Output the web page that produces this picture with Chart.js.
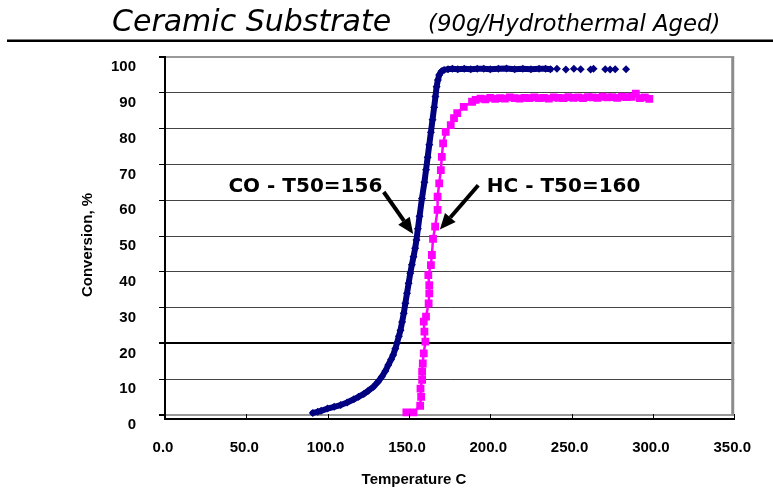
<!DOCTYPE html>
<html>
<head>
<meta charset="utf-8">
<script src="https://cdn.jsdelivr.net/npm/chart.js@4.4.0/dist/chart.umd.min.js"></script>
<style>
  html, body { margin: 0; padding: 0; background: #fff; }
  canvas { display: block; }
</style>
</head>
<body>
<canvas id="chart" width="773" height="491"></canvas>
<script>
var titleMain = 'Ceramic Substrate';
var titleSub = '(90g/Hydrothermal Aged)';
var xTitle = 'Temperature C';
var yTitle = 'Conversion, %';

var xTicks = [0, 50, 100, 150, 200, 250, 300, 350];
var yTicks = [0, 10, 20, 30, 40, 50, 60, 70, 80, 90, 100];

// CO conversion
var coTemp = [90.9, 93.9, 96.0, 99.9, 104.0, 108.0, 112.0, 116.1, 119.0, 122.2, 125.0, 128.2, 131.0, 133.3,
  135.5, 137.3, 139.0, 140.3, 141.6, 142.7, 143.8, 144.8, 145.8, 146.8, 147.8, 148.8, 149.8, 150.8, 151.8,
  152.8, 153.8, 154.6, 155.5, 156.5, 158.0, 159.5, 160.5, 161.5, 162.5, 163.5, 164.5, 165.5, 166.3, 167.0,
  167.8, 168.6, 170.0, 171.6, 174.0, 176.7, 180, 184, 188, 192, 196, 200, 205, 210, 215, 220, 225, 230, 234,
  237, 241, 246.5, 251.4, 255.6, 261.7, 263.5, 270.7, 273.7, 276.8, 283.5];
var coConv = [0.6, 0.9, 1.2, 1.8, 2.3, 2.8, 3.5, 4.4, 5.1, 5.9, 6.8, 7.9, 9.3, 10.7,
  12.3, 14.0, 15.5, 16.8, 18.5, 20.2, 22.0, 23.7, 26.0, 28.4, 31.2, 34.0, 36.8, 39.6, 42.0,
  44.2, 46.6, 48.9, 52.0, 55.5, 60.5, 65.0, 68.5, 72.0, 75.5, 79.0, 82.5, 86.0, 89.0, 91.7,
  93.6, 95.0, 96.0, 96.4, 96.6, 96.7, 96.6, 96.7, 96.6, 96.7, 96.7, 96.6, 96.7, 96.8, 96.6, 96.7, 96.6, 96.7, 96.7,
  96.6, 96.7, 96.5, 96.7, 96.6, 96.5, 96.7, 96.6, 96.5, 96.6, 96.6];

// HC conversion
var hcTemp = [148.4, 152.8, 156.9, 157.5, 157.1, 158.1, 158.1, 158.5, 159.1, 160.1, 159.5, 159.1, 160.5,
  162.1, 162.5, 162.5, 161.9, 163.5, 164.1, 164.8, 166.1, 167.6, 167.6, 168.6, 169.6, 170.2, 171.0, 172.6,
  175.7, 177.7, 179.7, 183.7, 188.8, 191, 194, 197, 200, 203, 206, 209, 212, 215, 218, 221, 224, 227, 230,
  233, 236, 239, 242, 245, 248, 251, 254, 257, 260, 263, 266, 269, 272, 275, 278, 281, 284, 287, 289.5,
  292, 295, 297.8];
var hcConv = [0.75, 0.75, 2.6, 5.1, 7.4, 9.8, 12.1, 14.4, 17.2, 20.5, 23.3, 26.1, 27.5,
  31.2, 34.0, 36.3, 39.1, 41.9, 44.7, 49.2, 52.6, 57.3, 61.0, 64.7, 68.4, 72.1, 75.9, 79.1,
  81.0, 82.9, 84.3, 86.1, 87.5, 88.0, 88.4, 88.2, 88.6, 88.3, 88.5, 88.4, 88.7, 88.5, 88.4, 88.6, 88.5, 88.7, 88.5,
  88.6, 88.4, 88.7, 88.6, 88.5, 88.8, 88.6, 88.7, 88.5, 88.8, 88.7, 88.6, 88.9, 88.7, 88.8, 88.6, 88.9, 88.8, 88.9, 89.8,
  88.5, 88.7, 88.3];

// past this temperature the CO markers stand apart, no joining line
var coSparseFrom = 237;

function toPoints(xs, ys) {
  return xs.map(function(x, i) { return {x: x, y: ys[i]}; });
}

// callouts, in data units
var callouts = [
  {text: 'CO - T50=156', at: [86.3, 63.7], from: [134.5, 62.3], to: [152.6, 50.6]},
  {text: 'HC - T50=160', at: [245.1, 63.7], from: [192.6, 64.2], to: [169.0, 51.8]}
];

function arrow(ctx, x0, y0, x1, y1) {
  var ang = Math.atan2(y1 - y0, x1 - x0);
  var head = 16, half = 7;
  var bx = x1 - head * Math.cos(ang), by = y1 - head * Math.sin(ang);
  ctx.beginPath();
  ctx.moveTo(x0, y0);
  ctx.lineTo(bx, by);
  ctx.lineWidth = 4;
  ctx.stroke();
  ctx.beginPath();
  ctx.moveTo(x1, y1);
  ctx.lineTo(bx + half * Math.sin(ang), by - half * Math.cos(ang));
  ctx.lineTo(bx - half * Math.sin(ang), by + half * Math.cos(ang));
  ctx.closePath();
  ctx.fill();
}

var decor = {
  id: 'decor',
  afterDraw: function(chart) {
    var ctx = chart.ctx, a = chart.chartArea;
    var xs = chart.scales.x, ys = chart.scales.y;
    ctx.save();
    ctx.fillStyle = '#000';
    ctx.strokeStyle = '#000';

    // heading and rule
    ctx.textAlign = 'left';
    ctx.textBaseline = 'alphabetic';
    ctx.font = 'italic 30px "DejaVu Sans"';
    ctx.fillText(titleMain, 112, 31);
    ctx.font = 'italic 22.8px "DejaVu Sans"';
    ctx.fillText(titleSub, 428, 31);
    ctx.fillRect(7, 39.5, 766, 2.5);

    // plot frame on the right
    ctx.beginPath();
    ctx.strokeStyle = '#8c8c8c';
    ctx.lineWidth = 3;
    ctx.moveTo(a.right - 1.5, a.top);
    ctx.lineTo(a.right - 1.5, ys.getPixelForValue(0));
    ctx.stroke();

    // x tick marks pointing up
    ctx.strokeStyle = '#000';
    ctx.lineWidth = 1;
    xTicks.forEach(function(v) {
      var px = Math.round(xs.getPixelForValue(v)) + 0.5;
      ctx.beginPath();
      ctx.moveTo(px, a.bottom - 5);
      ctx.lineTo(px, a.bottom);
      ctx.stroke();
    });

    // axis titles
    ctx.font = 'bold 15px "Liberation Sans"';
    ctx.textAlign = 'center';
    ctx.textBaseline = 'middle';
    ctx.fillText(xTitle, 414, 480);
    ctx.save();
    ctx.translate(88, 245);
    ctx.rotate(-Math.PI / 2);
    ctx.fillText(yTitle, 0, 0);
    ctx.restore();

    // callouts
    ctx.font = 'bold 20px "DejaVu Sans"';
    callouts.forEach(function(c) {
      ctx.fillText(c.text, xs.getPixelForValue(c.at[0]), ys.getPixelForValue(c.at[1]));
      arrow(ctx, xs.getPixelForValue(c.from[0]), ys.getPixelForValue(c.from[1]),
        xs.getPixelForValue(c.to[0]), ys.getPixelForValue(c.to[1]));
    });
    ctx.restore();
  }
};

var ctx = document.getElementById('chart').getContext('2d');
new Chart(ctx, {
  type: 'scatter',
  data: {
    datasets: [{
      label: 'HC',
      data: toPoints(hcTemp, hcConv),
      showLine: true,
      borderColor: '#ff00ff',
      borderWidth: 2.5,
      backgroundColor: '#ff00ff',
      pointStyle: 'rect',
      pointRadius: 5.5,
      pointBorderWidth: 0,
      pointHoverRadius: 5.5
    }, {
      label: 'CO',
      data: toPoints(coTemp, coConv),
      showLine: true,
      borderColor: '#000080',
      borderWidth: 6,
      borderCapStyle: 'round',
      borderJoinStyle: 'round',
      backgroundColor: '#000080',
      pointStyle: 'rectRot',
      pointRadius: 4,
      pointBorderWidth: 0,
      pointHoverRadius: 4,
      segment: {
        borderColor: function(c) {
          return c.p0.parsed.x >= coSparseFrom ? 'rgba(0,0,0,0)' : '#000080';
        }
      }
    }]
  },
  options: {
    responsive: false,
    animation: false,
    devicePixelRatio: 1,
    layout: { padding: { top: 57, right: 30, left: 0, bottom: 0 } },
    plugins: {
      legend: { display: false },
      tooltip: { enabled: false },
      title: { display: false }
    },
    scales: {
      x: {
        type: 'linear',
        min: 0,
        max: 350,
        afterFit: function(s) { s.height = 72; },
        afterBuildTicks: function(s) { s.ticks = xTicks.map(function(v) { return {value: v}; }); },
        grid: { drawOnChartArea: false, drawTicks: false },
        border: { color: '#000', width: 2 },
        ticks: {
          padding: 20,
          labelOffset: -2,
          color: '#000',
          font: { family: 'Liberation Sans', size: 15, weight: 'bold' },
          callback: function(v) { return v.toFixed(1); }
        }
      },
      y: {
        type: 'linear',
        min: -1.1,
        max: 100,
        afterFit: function(s) { s.width = 165; },
        afterBuildTicks: function(s) { s.ticks = yTicks.map(function(v) { return {value: v}; }); },
        grid: {
          color: function(c) {
            var v = c.tick && c.tick.value;
            if (v === 0 || v === 100) return '#999';
            if (v === 20) return '#000';
            return '#444';
          },
          lineWidth: function(c) {
            var v = c.tick && c.tick.value;
            return (v === 0 || v === 100 || v === 20) ? 2 : 1;
          },
          tickColor: '#000',
          tickLength: 6
        },
        border: { color: '#000', width: 2 },
        ticks: {
          padding: 23,
          labelOffset: 10,
          color: '#000',
          font: { family: 'Liberation Sans', size: 15, weight: 'bold' }
        }
      }
    }
  },
  plugins: [decor]
});
</script>
</body>
</html>
